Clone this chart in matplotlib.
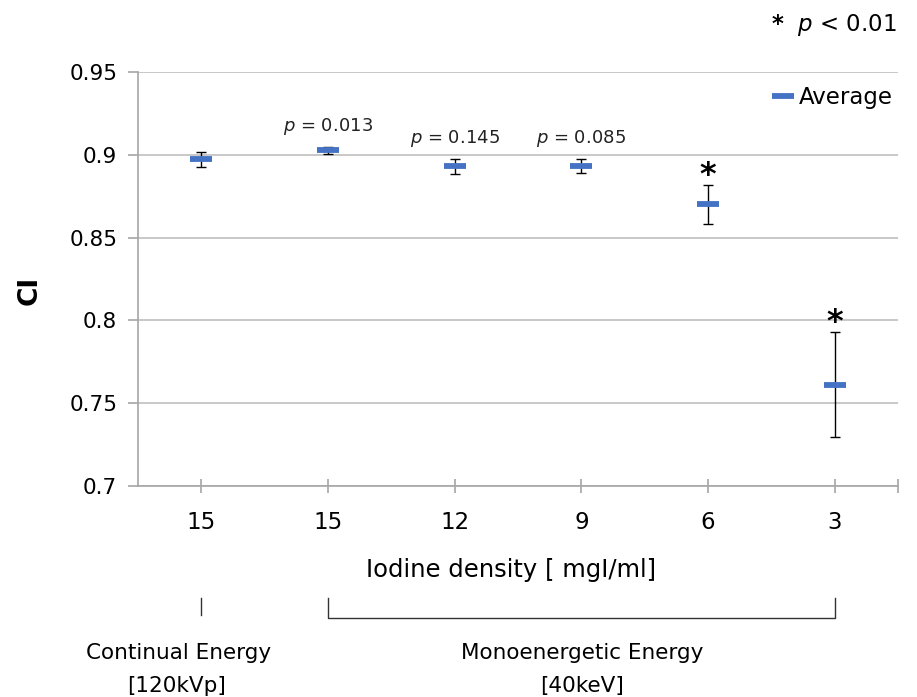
import matplotlib
matplotlib.use("Agg")
import matplotlib.pyplot as plt
import numpy as np

# ---- data ----
tick_labels = ["15", "15", "12", "9", "6", "3"]
means = [0.8973, 0.9027, 0.8932, 0.8932, 0.8701, 0.7610]
errors = [0.0044, 0.0023, 0.0045, 0.0043, 0.0116, 0.0317]
p_labels = ["", "= 0.013", "= 0.145", "= 0.085", "", ""]
significant = [False, False, False, False, True, True]

W, H = 917, 697
fig = plt.figure(figsize=(W / 100, H / 100), dpi=100)
L, R, T, B = 138, 898, 72, 486
ax = fig.add_axes([L / W, 1 - B / H, (R - L) / W, (B - T) / H])

def fx(px):
    return px / W

def fy(py):
    return 1 - py / H

blue = "#4472C4"
gray = "#A6A6A6"
x = np.arange(1, len(means) + 1)

ax.errorbar(x, means, yerr=errors, fmt="none", ecolor="black", elinewidth=1.0,
            capsize=3.5, capthick=1.0, zorder=3)
ax.plot(x, means, linestyle="none", marker="_", markersize=16.5,
        markeredgewidth=4.2, color=blue, zorder=4, label="Average")

ax.set_xlim(0.5, 6.5)
ax.set_ylim(0.7, 0.95)
ax.set_yticks([0.7, 0.75, 0.8, 0.85, 0.9, 0.95])
ax.set_yticklabels(["0.7", "0.75", "0.8", "0.85", "0.9", "0.95"])
ax.set_xticks(list(x) + [6.5])
ax.set_xticklabels(tick_labels + [""])
ax.yaxis.grid(True, color="#BFBFBF", linewidth=1.2)
ax.set_axisbelow(True)
for s in ["top", "right"]:
    ax.spines[s].set_visible(False)
for s in ["left", "bottom"]:
    ax.spines[s].set_color(gray)
    ax.spines[s].set_linewidth(1.2)
ax.tick_params(axis="y", direction="out", length=7, width=1.2, color=gray,
               labelsize=15.5, pad=8, labelcolor="black")
ax.tick_params(axis="x", direction="inout", length=10, width=1.2, color=gray,
               labelsize=16.5, pad=13, labelcolor="black")

fig.text(fx(30), fy(290), "CI", rotation=90, fontsize=19, fontweight="bold",
         ha="center", va="center")

# p-value annotations
for xi, m, e, lab in zip(x, means, errors, p_labels):
    if lab:
        ax.annotate(r"$\it{p}$ " + lab, (xi, m + e), xytext=(0, 7),
                    textcoords="offset points", ha="center", va="bottom",
                    fontsize=13, color="#222222")
for xi, m, e, sig in zip(x, means, errors, significant):
    if sig:
        ax.annotate("*", (xi, m + e), xytext=(0, -4), textcoords="offset points",
                    ha="center", va="bottom", fontsize=23, fontweight="bold")

# top right note and legend
fig.text(fx(897), fy(25), r"$\bf{*}$  $\it{p}$ < 0.01", ha="right", va="center",
         fontsize=16.5)
leg = ax.legend(loc="upper right", bbox_to_anchor=(1.0 + 4 / (R - L), 1.0 - 5 / (B - T)),
                frameon=False, fontsize=16.5, handlelength=0.85, handletextpad=0.25,
                borderaxespad=0)

# x-axis title
fig.text(fx(511), fy(570), "Iodine density [ mgI/ml]", ha="center", va="center",
         fontsize=17.5)

# bracket lines
xt = ax.get_xaxis_transform()
y_top = (B - 598) / (B - T)
y_bot = (B - 618) / (B - T)
y_bot1 = (B - 615) / (B - T)
ax.plot([1, 1], [y_top, y_bot1], transform=xt, color="#333333", lw=1.0, clip_on=False)
ax.plot([2, 2, 6, 6], [y_top, y_bot, y_bot, y_top], transform=xt, color="#333333",
        lw=1.0, clip_on=False)

fam = ["Liberation Sans Narrow", "DejaVu Sans"]
fig.text(fx(179), fy(653), "Continual Energy", ha="center", va="center",
         fontsize=15.5, family=fam)
fig.text(fx(177), fy(686), "[120kVp]", ha="center", va="center",
         fontsize=15.5, family=fam)
fig.text(fx(582), fy(653), "Monoenergetic Energy", ha="center", va="center",
         fontsize=15.5, family=fam)
fig.text(fx(582), fy(686), "[40keV]", ha="center", va="center",
         fontsize=15.5, family=fam)

fig.savefig("out.png", dpi=100)
